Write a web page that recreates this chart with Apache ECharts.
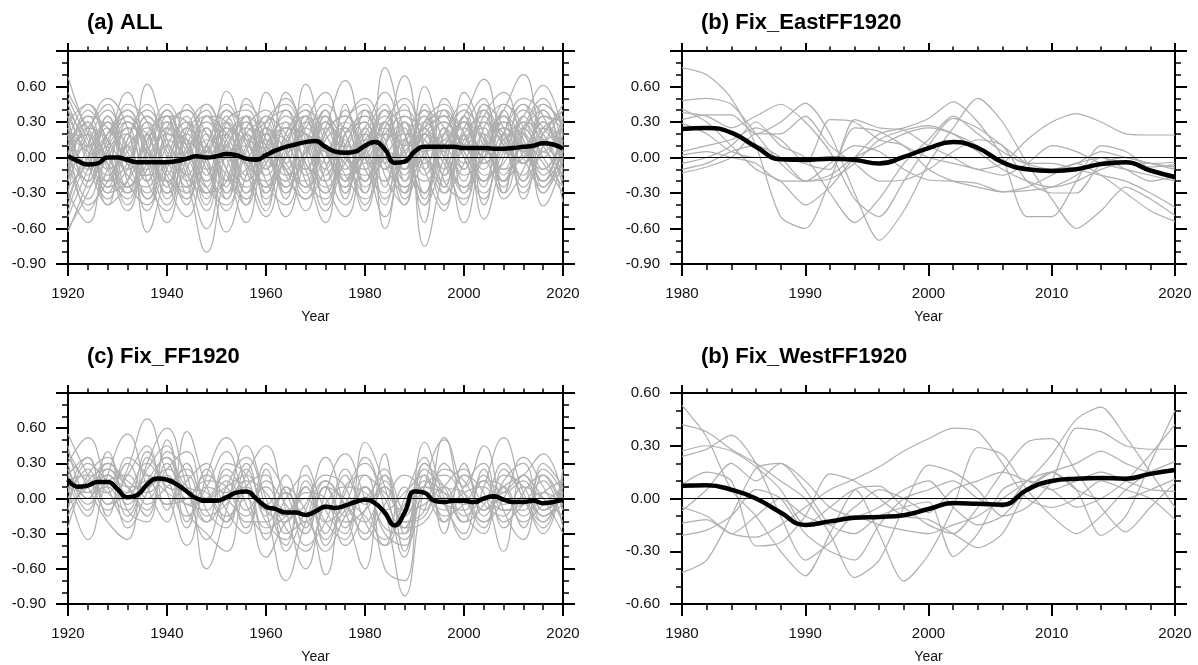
<!DOCTYPE html>
<html>
<head>
<meta charset="utf-8">
<title>ensemble time series</title>
<script src="https://cdn.jsdelivr.net/npm/echarts@6/dist/echarts.min.js"></script>
<style>
  html, body { margin: 0; padding: 0; background: #fff; }
  #main { width: 1198px; height: 665px; }
</style>
</head>
<body>
<div id="main"></div>
<script>
// x positions of the samples
var yrs4 = [1920,1924,1928,1932,1936,1940,1944,1948,1952,1956,1960,1964,1968,1972,1976,1980,1984,1988,1992,1996,2000,2004,2008,2012,2016,2020];
var yrsLong2 = Array.from({length: 51}, function (_, i) { return 1920 + 2 * i; });
var yrsShort2 = Array.from({length: 21}, function (_, i) { return 1980 + 2 * i; });

// (a) ALL
var allMean = [0.01,-0.03,-0.06,-0.05,0.00,0.00,-0.02,-0.04,-0.04,-0.04,-0.04,-0.03,-0.01,0.01,0.00,0.01,0.03,0.02,-0.01,-0.02,0.02,0.06,0.09,0.11,0.13,0.14,0.09,0.05,0.04,0.05,0.10,0.13,0.07,-0.045,-0.035,0.05,0.09,0.09,0.09,0.09,0.08,0.08,0.08,0.075,0.075,0.08,0.09,0.10,0.12,0.11,0.075];
var allRuns = [
  [0.68,0.20,-0.15,0.10,0.25,-0.10,-0.30,0.05,0.30,-0.05,-0.20,0.15,0.35,0.05,-0.25,0.10,0.40,-0.10,0.20,0.35,-0.05,0.10,0.30,0.05,-0.10,0.20],
  [-0.60,-0.30,0.10,0.55,0.10,-0.20,0.05,0.30,-0.10,-0.35,0.10,0.25,-0.05,-0.30,0.20,0.35,0.00,-0.25,0.15,0.30,0.05,-0.20,0.10,0.40,0.10,-0.15],
  [-0.63,-0.20,0.25,-0.05,0.62,0.15,-0.20,-0.80,-0.10,0.25,0.00,-0.20,0.30,0.10,-0.15,0.05,0.25,-0.20,0.60,0.10,-0.25,0.15,0.35,0.05,0.20,0.45],
  [0.45,0.05,-0.30,0.20,-0.63,-0.10,0.30,0.05,0.56,0.10,-0.30,0.10,-0.15,0.25,0.65,0.10,-0.20,0.15,-0.10,0.50,0.20,-0.10,0.25,0.10,-0.20,0.05],
  [0.30,-0.25,0.15,0.40,-0.05,-0.55,0.00,0.25,-0.20,0.50,0.15,-0.25,0.05,0.30,0.00,-0.20,0.76,0.20,-0.30,0.10,0.35,0.66,0.10,-0.15,0.25,0.10],
  [0.10,0.35,-0.10,-0.35,0.20,0.35,-0.10,-0.60,0.05,0.30,-0.10,0.55,0.20,-0.20,0.10,0.40,0.10,-0.40,0.20,0.05,-0.55,0.10,0.40,0.70,0.15,-0.05],
  [-0.40,0.10,0.40,0.05,-0.30,0.10,0.30,0.00,-0.63,-0.15,0.25,-0.05,0.62,0.10,-0.25,0.20,-0.05,0.30,-0.75,-0.10,0.30,-0.05,0.15,0.35,0.61,0.20],
  [0.20,-0.45,-0.10,0.30,0.10,-0.25,0.45,0.20,-0.10,-0.55,0.10,0.30,-0.10,-0.55,0.20,0.30,-0.60,0.10,0.35,-0.15,0.20,-0.52,0.00,0.30,-0.10,0.15],
  [0.50,0.15,-0.20,-0.05,0.35,0.05,-0.35,0.10,0.40,-0.10,-0.50,0.05,0.40,0.20,-0.15,-0.35,0.10,0.69,0.05,-0.25,0.55,0.20,-0.20,0.05,0.30,-0.05],
  [-0.30,-0.55,0.05,0.20,-0.15,0.25,0.10,-0.35,0.20,0.00,0.55,0.10,-0.30,0.20,0.35,-0.10,-0.30,0.25,-0.55,0.15,0.10,0.40,-0.15,0.10,-0.41,0.00],
  [0.05,0.25,0.45,-0.20,-0.40,0.20,0.40,0.00,-0.30,0.25,0.40,-0.10,-0.20,0.35,0.10,-0.40,0.25,0.40,0.10,-0.30,-0.05,0.35,0.55,0.10,-0.20,0.30],
  [-0.20,0.30,-0.05,-0.45,0.10,0.45,0.15,-0.20,0.20,0.30,-0.20,-0.40,0.10,0.45,0.20,-0.20,0.05,-0.20,0.30,0.45,0.00,-0.30,0.20,0.50,0.35,-0.10],
  [0.35,0.00,-0.35,0.15,0.45,0.00,-0.40,0.35,0.05,-0.30,0.25,0.05,-0.35,-0.10,0.30,0.50,0.15,-0.25,0.05,0.30,0.10,0.00,-0.30,0.20,0.45,0.25],
  [-0.10,0.40,0.15,-0.25,-0.05,0.30,-0.20,0.10,0.45,0.15,-0.15,0.20,0.45,-0.05,-0.40,0.05,0.35,0.00,-0.20,0.20,0.45,0.10,-0.10,0.25,0.05,0.35],
  [0.25,-0.10,0.20,0.35,-0.20,-0.45,0.20,0.40,-0.25,0.20,-0.05,-0.50,0.00,0.40,-0.10,0.20,0.45,-0.10,0.25,-0.10,0.30,0.05,0.40,-0.05,0.15,-0.20],
  [-0.50,-0.10,0.30,-0.10,0.05,0.40,-0.05,-0.45,0.30,0.40,0.05,-0.20,0.25,0.05,-0.20,0.40,-0.15,-0.40,0.40,0.25,-0.20,0.30,0.10,-0.25,0.20,0.40],
  [0.15,0.45,0.05,-0.30,-0.10,0.20,0.10,-0.25,-0.40,0.10,0.30,0.40,-0.05,-0.20,0.45,-0.05,0.20,0.10,0.45,-0.20,-0.35,0.25,0.45,0.20,-0.05,-0.30],
  [0.40,-0.05,-0.40,0.25,0.20,-0.30,-0.10,0.45,0.15,-0.20,0.20,-0.10,0.30,0.55,0.05,-0.15,0.10,0.45,-0.15,0.10,0.25,-0.20,0.05,0.45,0.25,0.05],
  [-0.05,0.10,-0.25,-0.10,0.30,-0.15,0.25,-0.05,-0.45,0.05,0.35,-0.15,-0.35,0.15,0.25,-0.25,0.00,0.20,0.00,-0.40,0.15,0.25,-0.35,-0.10,0.30,0.10],
  [0.25,0.10,0.30,-0.25,0.00,0.25,-0.30,0.15,0.05,-0.25,0.00,0.35,0.10,-0.25,-0.05,0.25,-0.35,0.00,0.30,0.00,-0.25,0.05,0.30,-0.35,0.10,0.25],
  [-0.30,0.20,-0.20,0.10,-0.35,0.00,0.35,-0.10,0.00,0.20,-0.35,0.00,0.20,-0.15,0.15,-0.30,0.30,0.05,-0.30,0.25,0.00,-0.35,0.15,0.20,-0.25,0.05],
  [0.05,-0.35,0.05,0.25,-0.20,0.10,-0.15,0.25,-0.20,-0.10,0.15,-0.30,0.05,0.25,-0.30,0.10,0.20,-0.30,0.10,0.05,0.35,-0.15,-0.05,0.30,0.00,-0.25],
  [0.20,0.05,-0.05,-0.30,0.20,-0.35,0.05,0.30,0.10,-0.40,0.20,0.15,-0.25,0.00,0.30,0.05,-0.40,0.30,0.15,-0.05,-0.40,0.20,0.05,0.00,0.35,0.30],
  [-0.15,0.25,0.15,-0.15,-0.25,0.15,0.00,-0.30,0.35,0.00,-0.25,0.30,-0.10,0.10,-0.35,0.15,0.05,0.00,-0.35,0.40,0.10,-0.05,0.20,-0.20,0.05,-0.38],
  [0.35,-0.15,0.35,0.00,-0.15,-0.05,0.20,-0.15,0.25,0.15,0.05,-0.35,0.35,-0.05,0.10,0.00,0.30,-0.15,0.20,-0.30,0.20,0.35,-0.20,0.10,-0.15,0.20],
  [-0.25,-0.05,0.20,0.30,0.05,-0.20,-0.25,0.10,-0.30,0.35,-0.10,0.10,0.15,-0.40,0.05,0.30,-0.10,0.15,-0.05,0.20,-0.15,0.00,0.25,0.10,0.40,0.00],
  [0.10,0.30,-0.30,-0.20,0.15,0.30,0.10,-0.40,0.10,-0.05,0.25,-0.05,-0.25,0.30,0.00,-0.10,0.40,0.20,-0.40,0.00,0.40,0.15,-0.25,0.35,0.15,0.10],
  [-0.35,0.00,0.10,0.35,0.10,-0.30,0.15,0.00,0.30,-0.30,-0.05,0.25,0.20,-0.10,0.40,0.00,-0.20,0.35,0.25,0.10,-0.10,0.45,0.15,-0.05,0.25,0.35],
  [0.00,-0.20,0.35,-0.05,-0.10,0.35,0.00,0.05,-0.35,0.20,0.30,-0.25,0.00,0.35,-0.20,0.20,0.00,-0.10,0.30,0.35,0.20,-0.25,0.30,0.15,-0.30,0.15],
  [0.15,0.30,-0.10,0.05,0.30,-0.15,-0.35,0.20,0.05,0.10,-0.30,0.20,0.40,0.00,0.20,0.30,-0.25,0.30,0.05,0.15,0.30,0.00,0.00,0.25,0.40,-0.15],
  [0.40,0.10,-0.25,0.30,0.05,-0.30,0.25,0.45,0.00,-0.35,0.20,0.50,0.15,-0.30,0.10,0.35,-0.05,-0.30,0.25,0.40,0.05,-0.20,0.35,0.00,-0.25,0.10],
  [-0.45,0.00,0.30,0.10,-0.20,0.30,0.05,-0.25,0.40,0.20,-0.25,0.00,0.30,-0.20,-0.50,0.05,0.40,-0.05,0.35,0.00,-0.30,0.30,0.20,-0.20,0.35,0.25],
  [0.30,0.45,0.10,-0.40,0.05,0.35,0.30,-0.10,-0.35,0.30,0.10,-0.10,-0.45,0.20,0.35,0.00,-0.50,0.15,0.40,-0.15,0.25,0.50,-0.10,0.00,0.30,-0.10],
  [0.00,-0.40,-0.20,0.15,0.40,0.10,-0.25,0.35,0.20,-0.15,0.35,0.20,-0.10,0.30,0.05,-0.45,0.10,0.30,-0.30,0.20,0.40,-0.40,0.20,0.45,0.00,0.30],
  [-0.20,0.20,0.50,0.25,-0.45,-0.05,0.25,-0.20,0.10,0.35,-0.40,0.10,0.35,0.05,0.25,-0.20,0.20,0.35,-0.10,-0.45,0.30,0.15,-0.20,0.25,0.50,0.05],
  [0.25,-0.05,0.00,0.45,0.30,-0.20,-0.50,0.00,0.25,-0.20,0.05,0.40,-0.20,-0.35,0.30,0.45,-0.10,0.05,0.25,0.35,-0.30,0.00,0.35,0.15,-0.20,0.35],
  [0.10,0.20,-0.40,-0.20,0.35,0.20,0.15,-0.30,-0.20,0.45,0.25,-0.15,0.05,0.40,-0.30,0.15,0.30,-0.35,0.00,0.30,0.15,0.30,-0.30,0.30,0.20,-0.25],
  [-0.05,0.35,0.25,-0.05,-0.35,0.25,0.40,0.10,-0.15,-0.40,0.30,0.45,0.05,-0.45,0.00,0.25,0.55,0.05,-0.40,0.25,-0.10,0.45,0.25,-0.30,0.10,0.40],
  [0.20,-0.20,0.20,0.40,0.00,-0.40,0.10,0.35,0.30,-0.05,-0.45,0.25,0.20,0.10,-0.05,-0.30,0.30,0.10,0.20,-0.25,0.35,0.00,0.45,0.25,-0.30,0.00],
  [0.55,0.25,0.00,-0.25,0.15,0.40,-0.15,-0.30,0.15,0.35,0.10,-0.30,0.25,0.35,-0.20,0.00,0.30,0.50,0.10,-0.20,0.10,0.40,0.10,-0.05,0.45,0.30]
];

// (b) Fix_EastFF1920
var eastMean = [0.24,0.25,0.21,0.09,-0.015,-0.02,-0.01,-0.02,-0.05,0.005,0.08,0.13,0.08,-0.04,-0.10,-0.115,-0.10,-0.055,-0.04,-0.11,-0.165];
var eastRuns = [
  [0.76,0.70,0.50,0.10,-0.50,-0.60,-0.20,0.25,0.22,0.10,0.00,-0.05,-0.10,-0.15,-0.05,0.10,0.05,-0.05,-0.10,-0.15,-0.20],
  [0.48,0.50,0.45,0.20,-0.05,-0.20,-0.18,-0.05,0.15,0.23,0.27,0.20,0.05,-0.10,-0.20,-0.25,-0.20,-0.10,-0.05,-0.05,-0.04],
  [0.41,0.30,0.10,-0.10,-0.20,-0.40,-0.25,0.00,0.20,0.25,0.33,0.47,0.30,0.00,-0.50,-0.50,-0.20,0.10,0.05,-0.10,-0.19],
  [0.38,0.35,0.25,0.35,0.45,0.30,0.05,-0.35,-0.50,-0.20,0.10,0.33,0.25,0.10,-0.05,-0.10,-0.05,0.05,0.00,-0.05,-0.08],
  [0.32,0.36,0.36,0.20,0.30,0.46,0.20,-0.30,-0.70,-0.45,-0.05,0.25,0.50,0.30,-0.05,-0.35,-0.60,-0.45,-0.25,-0.35,-0.49],
  [0.29,0.20,0.05,0.00,0.00,-0.05,0.32,0.30,0.15,0.10,-0.10,-0.20,-0.25,-0.29,-0.28,-0.25,-0.15,0.00,-0.10,-0.20,-0.16],
  [0.05,0.10,0.15,0.25,0.15,-0.05,-0.10,0.32,0.25,0.23,0.10,0.00,-0.10,-0.05,0.15,0.30,0.37,0.30,0.20,0.19,0.19],
  [0.02,0.05,0.00,-0.05,-0.20,-0.20,-0.05,0.10,0.05,-0.10,-0.19,-0.20,-0.22,-0.29,-0.25,-0.15,-0.05,-0.15,-0.30,-0.45,-0.54],
  [-0.05,0.00,0.10,0.30,0.10,0.00,-0.30,-0.55,-0.35,-0.05,0.15,0.35,0.20,0.05,-0.05,-0.05,-0.10,-0.15,-0.20,-0.30,-0.42],
  [-0.10,-0.05,0.05,0.10,0.00,-0.20,-0.15,0.00,0.10,0.20,0.25,0.20,0.10,-0.05,-0.10,-0.10,-0.05,0.00,-0.05,-0.08,-0.06],
  [-0.13,-0.08,0.00,0.20,0.20,0.35,0.10,-0.05,-0.20,-0.19,-0.10,0.05,0.15,0.10,-0.20,-0.30,-0.30,-0.05,0.00,-0.05,-0.10]
];

// (c) Fix_FF1920
var ffMean = [0.16,0.10,0.11,0.14,0.14,0.08,0.01,0.03,0.12,0.17,0.16,0.12,0.06,0.00,-0.02,-0.02,0.01,0.05,0.06,0.00,-0.07,-0.09,-0.12,-0.12,-0.14,-0.11,-0.07,-0.08,-0.06,-0.03,-0.01,-0.04,-0.12,-0.23,-0.12,0.06,0.05,-0.02,-0.03,-0.02,-0.02,-0.03,0.00,0.02,-0.01,-0.03,-0.03,-0.02,-0.04,-0.03,-0.01];
var ffRuns = [
  [0.55,0.20,-0.10,0.25,0.68,0.20,-0.15,0.10,0.40,-0.05,-0.30,0.00,0.20,-0.20,-0.05,0.35,-0.10,-0.83,0.10,0.50,0.05,-0.20,0.15,0.30,-0.10,0.05],
  [0.30,0.52,0.10,-0.20,0.30,0.60,0.10,-0.35,0.10,0.35,-0.10,-0.70,-0.20,0.15,-0.05,-0.30,0.20,-0.30,0.48,0.00,-0.35,0.10,0.52,0.05,-0.20,0.10],
  [0.10,-0.35,0.20,0.55,0.10,-0.20,0.57,0.10,-0.20,0.20,0.45,-0.10,-0.60,0.05,0.38,0.00,-0.40,0.10,-0.10,0.30,0.10,0.45,-0.10,-0.35,0.20,-0.10],
  [-0.25,0.20,0.35,-0.10,-0.20,0.40,0.20,-0.60,-0.10,0.45,0.00,-0.40,0.28,-0.10,-0.30,0.48,0.10,-0.50,0.20,-0.20,0.30,-0.15,0.10,0.20,0.38,0.00],
  [0.40,0.10,-0.20,-0.35,0.35,0.05,-0.40,0.20,0.52,0.10,-0.50,-0.20,-0.05,0.35,-0.10,-0.60,0.38,-0.20,-0.10,0.52,-0.10,-0.30,0.25,0.00,-0.30,0.20],
  [0.20,-0.10,0.30,0.10,-0.15,0.50,-0.10,-0.30,-0.45,0.10,0.20,-0.30,-0.20,-0.65,0.10,0.20,-0.60,-0.70,0.30,0.10,-0.20,0.25,-0.20,-0.05,0.15,-0.25],
  [0.05,0.35,-0.05,0.20,0.45,-0.10,0.30,0.00,0.15,-0.20,-0.20,0.10,-0.40,-0.20,0.25,-0.20,-0.40,0.00,0.35,-0.30,0.20,0.05,-0.45,0.20,0.00,-0.30],
  [0.25,0.00,0.40,-0.15,0.15,0.35,-0.20,0.25,-0.10,-0.30,0.30,0.05,-0.30,0.10,-0.25,0.10,-0.30,-0.40,0.10,0.20,0.00,-0.25,0.20,0.10,-0.20,0.15],
  [-0.10,0.30,0.15,0.00,0.40,0.10,0.05,-0.20,0.30,0.20,-0.25,-0.15,0.10,-0.40,0.05,0.30,0.00,-0.25,-0.20,0.10,0.25,-0.10,0.00,-0.25,0.30,0.10],
  [0.35,0.15,0.05,0.30,0.00,0.25,0.40,-0.10,-0.25,0.25,-0.10,-0.20,0.05,0.00,-0.40,-0.10,0.25,-0.10,0.30,-0.05,-0.30,0.20,0.05,0.15,-0.15,-0.05],
  [0.15,-0.15,0.25,0.10,-0.10,0.30,0.00,0.20,0.00,-0.15,0.25,-0.45,-0.10,0.20,0.10,-0.35,-0.05,0.20,0.05,-0.20,0.10,0.30,-0.10,-0.10,0.25,0.05],
  [0.00,0.25,-0.15,0.35,0.20,-0.05,0.15,0.30,-0.20,0.05,-0.05,0.20,-0.25,0.10,-0.15,0.10,-0.25,-0.30,0.15,0.05,-0.20,-0.05,0.30,0.00,-0.25,0.25],
  [0.45,0.05,0.20,-0.05,0.25,0.45,-0.05,0.00,0.20,-0.10,0.10,-0.10,0.00,-0.30,0.20,-0.05,0.15,-0.45,0.25,0.10,0.05,-0.20,0.00,0.35,0.10,-0.20],
  [-0.05,0.10,0.30,0.15,0.05,0.20,-0.25,0.10,0.05,0.30,-0.15,0.05,-0.15,0.15,-0.05,-0.20,0.10,-0.20,-0.15,0.25,0.15,-0.10,0.10,-0.15,0.05,0.15],
  [0.20,0.35,-0.05,0.05,0.30,0.15,0.20,-0.15,-0.05,0.15,0.05,-0.25,-0.45,-0.05,0.10,0.05,-0.15,-0.35,0.00,-0.10,0.05,0.10,-0.25,0.05,0.20,-0.10],
  [0.10,0.05,0.10,-0.25,0.05,0.35,0.10,0.05,-0.15,0.00,-0.35,0.10,-0.10,-0.45,-0.15,0.10,-0.10,0.05,0.20,-0.15,-0.05,0.15,0.10,-0.20,-0.05,0.10],
  [0.30,-0.05,0.15,0.20,-0.05,0.10,0.25,0.00,0.10,0.20,-0.20,-0.35,0.15,-0.20,-0.35,0.20,0.05,-0.10,-0.05,0.10,-0.15,0.00,0.05,0.20,-0.10,0.00],
  [-0.15,0.15,0.25,0.05,0.15,-0.05,0.00,0.15,0.10,-0.25,0.15,-0.05,-0.30,0.10,0.00,-0.15,-0.35,-0.05,0.10,0.00,0.20,-0.05,-0.15,0.10,0.00,-0.15],
  [0.15,0.20,0.05,-0.10,0.20,0.05,-0.05,-0.10,0.25,0.05,-0.05,-0.15,0.10,-0.35,-0.10,0.00,0.20,-0.25,0.05,-0.05,-0.10,0.15,-0.05,0.00,-0.15,0.05],
  [0.25,0.00,0.20,0.10,0.10,0.25,0.05,-0.20,0.00,0.10,-0.10,0.05,-0.20,-0.05,-0.20,-0.10,0.10,-0.15,0.10,0.05,-0.05,0.00,-0.10,-0.05,0.05,-0.05]
];

// (d) Fix_WestFF1920
var westMean = [0.072,0.075,0.05,0.00,-0.08,-0.15,-0.13,-0.11,-0.105,-0.095,-0.06,-0.026,-0.03,-0.035,0.05,0.10,0.113,0.117,0.113,0.14,0.162];
var westRuns = [
  [0.53,0.35,0.05,-0.10,-0.30,-0.44,-0.20,0.05,0.07,-0.05,-0.15,-0.20,-0.05,0.15,0.32,0.34,0.15,-0.05,-0.19,-0.05,0.09],
  [0.42,0.38,0.28,0.20,0.10,0.00,-0.20,-0.45,-0.35,-0.05,0.19,0.15,0.05,-0.10,-0.05,0.10,0.40,0.38,0.30,0.28,0.28],
  [0.27,0.30,0.27,0.18,0.05,-0.15,-0.05,0.05,-0.20,-0.47,-0.32,-0.05,0.29,0.25,0.05,-0.10,-0.20,-0.10,0.05,0.15,0.21],
  [0.24,0.28,0.36,0.20,-0.10,-0.35,-0.25,-0.10,-0.15,-0.18,-0.20,-0.15,-0.10,0.00,0.10,0.25,0.45,0.52,0.35,0.15,-0.05],
  [0.08,0.15,0.10,-0.27,-0.25,-0.10,0.14,0.10,0.00,-0.10,-0.12,-0.20,-0.28,-0.20,0.05,0.15,0.05,-0.21,-0.10,0.20,0.50],
  [-0.05,-0.10,-0.20,-0.22,-0.15,-0.05,0.05,0.11,0.18,0.27,0.34,0.40,0.38,0.20,0.00,-0.05,0.00,0.10,0.05,0.00,-0.12],
  [-0.42,-0.35,-0.10,0.17,0.20,0.10,-0.05,-0.10,-0.05,0.05,0.10,-0.05,-0.15,-0.10,0.05,0.15,0.20,0.27,0.20,0.15,0.17],
  [-0.07,0.05,0.20,0.10,0.20,0.05,-0.15,-0.20,-0.10,-0.05,-0.02,-0.33,-0.20,0.05,0.10,0.05,-0.05,0.00,0.10,0.25,0.42],
  [-0.14,-0.12,-0.20,-0.10,0.00,-0.10,-0.15,-0.05,0.05,0.00,-0.08,0.05,0.10,0.15,0.10,0.05,0.10,0.15,0.10,0.05,0.04],
  [-0.21,-0.18,-0.10,0.05,0.00,-0.20,-0.30,-0.35,-0.15,0.00,0.05,0.10,0.00,-0.05,0.10,0.15,0.05,0.00,0.00,0.05,0.11]
];

var FONT = '"Liberation Sans", Arial, Helvetica, sans-serif';

var panels = [
  { title: '(a) ALL', left: 68, top: 51, titleTop: 12, width: 495, x0: 1920, x1: 2020, xStep: 20, yLim: 0.9,
    runs: allRuns, runX: yrs4, mean: allMean, meanX: yrsLong2, smooth: 0.45 },
  { title: '(b) Fix_EastFF1920', left: 682, top: 51, titleTop: 12, width: 493, x0: 1980, x1: 2020, xStep: 10, yLim: 0.9,
    runs: eastRuns, runX: yrsShort2, mean: eastMean, meanX: yrsShort2, smooth: 0.25 },
  { title: '(c) Fix_FF1920', left: 68, top: 393, titleTop: 346, width: 495, x0: 1920, x1: 2020, xStep: 20, yLim: 0.9,
    runs: ffRuns, runX: yrs4, mean: ffMean, meanX: yrsLong2, smooth: 0.45 },
  { title: '(b) Fix_WestFF1920', left: 682, top: 393, titleTop: 346, width: 493, x0: 1980, x1: 2020, xStep: 10, yLim: 0.6,
    runs: westRuns, runX: yrsShort2, mean: westMean, meanX: yrsShort2, smooth: 0.25 }
];

function fmtY(v) {
  if (Math.abs(v) < 1e-9) return '0.00';
  return v.toFixed(2);
}

function pairs(xs, ys) {
  return ys.map(function (v, i) { return [xs[i], v]; });
}

var grids = [], xAxes = [], yAxes = [], series = [], titles = [];
var axisLine = { show: true, onZero: false, lineStyle: { color: '#000', width: 2 } };

panels.forEach(function (p, k) {
  grids.push({ left: p.left, top: p.top, width: p.width, height: 213 });
  titles.push({
    text: p.title, left: p.left + 19, top: p.titleTop, padding: 0,
    textStyle: { fontFamily: FONT, fontSize: 22, fontWeight: 'bold', color: '#000' }
  });

  // bottom and top x axes
  xAxes.push({
    type: 'value', gridIndex: k, min: p.x0, max: p.x1, interval: p.xStep, position: 'bottom',
    name: 'Year', nameLocation: 'middle', nameGap: 46,
    nameTextStyle: { fontFamily: FONT, fontSize: 14, color: '#111' },
    axisLine: axisLine,
    axisTick: { show: true, length: 12, lineStyle: { color: '#000', width: 2 } },
    minorTick: { show: true, splitNumber: 5, length: 6, lineStyle: { color: '#000', width: 1.5 } },
    axisLabel: { margin: 22, fontFamily: FONT, fontSize: 15, color: '#111',
                 formatter: function (v) { return String(v); } },
    splitLine: { show: false }
  });
  xAxes.push({
    type: 'value', gridIndex: k, min: p.x0, max: p.x1, interval: p.xStep, position: 'top',
    axisLine: axisLine,
    axisTick: { show: true, length: 8, lineStyle: { color: '#000', width: 2 } },
    minorTick: { show: true, splitNumber: 5, length: 4.5, lineStyle: { color: '#000', width: 1.5 } },
    axisLabel: { show: false },
    splitLine: { show: false }
  });

  // left and right y axes
  yAxes.push({
    type: 'value', gridIndex: k, min: -p.yLim, max: p.yLim, interval: 0.3, position: 'left',
    axisLine: axisLine,
    axisTick: { show: true, length: 12, lineStyle: { color: '#000', width: 2 } },
    minorTick: { show: true, splitNumber: 3, length: 6, lineStyle: { color: '#000', width: 1.5 } },
    axisLabel: { margin: 22, fontFamily: FONT, fontSize: 15, color: '#111', formatter: fmtY,
                 showMaxLabel: p.yLim < 0.8 },
    splitLine: { show: false }
  });
  yAxes.push({
    type: 'value', gridIndex: k, min: -p.yLim, max: p.yLim, interval: 0.3, position: 'right',
    axisLine: axisLine,
    axisTick: { show: true, length: 12, lineStyle: { color: '#000', width: 2 } },
    minorTick: { show: true, splitNumber: 3, length: 6, lineStyle: { color: '#000', width: 1.5 } },
    axisLabel: { show: false },
    splitLine: { show: false }
  });

  var xi = 2 * k, yi = 2 * k;
  p.runs.forEach(function (r) {
    series.push({
      type: 'line', xAxisIndex: xi, yAxisIndex: yi, data: pairs(p.runX, r),
      showSymbol: false, smooth: p.smooth, silent: true, z: 2,
      lineStyle: { color: '#afafaf', width: 1.2 }
    });
  });
  // zero line
  series.push({
    type: 'line', xAxisIndex: xi, yAxisIndex: yi, data: [[p.x0, 0], [p.x1, 0]],
    showSymbol: false, silent: true, z: 3,
    lineStyle: { color: '#000', width: 1 }
  });
  series.push({
    type: 'line', xAxisIndex: xi, yAxisIndex: yi, data: pairs(p.meanX, p.mean),
    showSymbol: false, smooth: 0.5, silent: true, z: 4,
    lineStyle: { color: '#000', width: 4.5 }
  });
});

var myChart = echarts.init(document.getElementById('main'));
myChart.setOption({
  backgroundColor: '#fff',
  animation: false,
  title: titles,
  grid: grids,
  xAxis: xAxes,
  yAxis: yAxes,
  series: series
});
</script>
</body>
</html>
